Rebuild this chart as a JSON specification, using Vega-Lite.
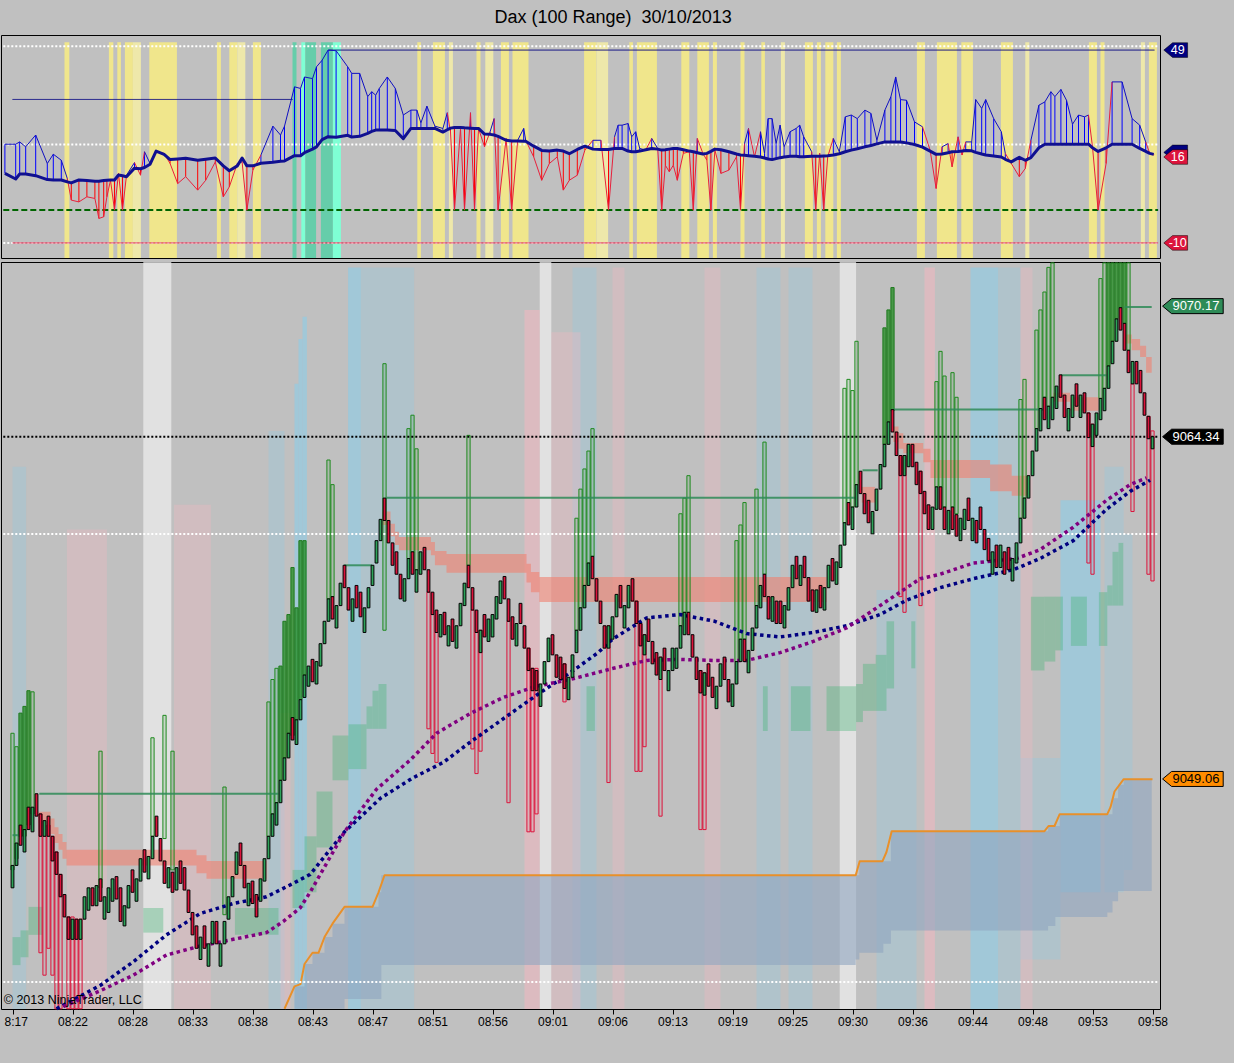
{
"$schema": "https://vega.github.io/schema/vega-lite/v6.json",
"background": "#C0C0C0",
"padding": {"left": 0, "top": 8, "right": 8, "bottom": 40},
"title": {"text": "Dax (100 Range)\u00a0 30/10/2013", "font": "Liberation Sans", "fontSize": 18, "fontWeight": "normal", "color": "black", "anchor": "middle", "offset": 8},
"spacing": 2,
"config": {"view": {"stroke": "black", "strokeWidth": 1, "fill": "#C0C0C0"}, "axis": {"labelFont": "Liberation Sans", "labelFontSize": 12, "labelColor": "black", "tickColor": "black", "domain": false, "grid": false}, "scale": {"continuousPadding": 0}},
"datasets": {
"candles": [
{"i":0,"o":9044.2,"c":9045.2},{"i":1,"o":9045.2,"c":9046.2},{"i":2,"o":9047.0,"c":9046.1},{"i":3,"o":9045.8,"c":9046.8},{"i":4,"o":9047.8,"c":9046.8},{"i":5,"o":9046.7,"c":9047.8},{"i":6,"o":9048.4,"c":9047.4},{"i":7,"o":9047.5,"c":9046.5},{"i":8,"o":9046.5,"c":9047.2},{"i":9,"o":9047.4,"c":9046.5},
{"i":10,"o":9046.5,"c":9045.4},{"i":11,"o":9045.8,"c":9044.8},{"i":12,"o":9044.8,"c":9043.8},{"i":13,"o":9043.9,"c":9042.9},{"i":14,"o":9042.9,"c":9041.9},{"i":15,"o":9041.9,"c":9042.8},{"i":16,"o":9042.8,"c":9041.9},{"i":17,"o":9041.9,"c":9042.8},{"i":18,"o":9042.8,"c":9043.8},{"i":19,"o":9043.2,"c":9044.2},
{"i":20,"o":9044.2,"c":9043.4},{"i":21,"o":9043.4,"c":9044.3},{"i":22,"o":9044.6,"c":9043.6},{"i":23,"o":9042.8,"c":9043.8},{"i":24,"o":9043.1,"c":9044.2},{"i":25,"o":9043.6,"c":9044.6},{"i":26,"o":9044.7,"c":9043.7},{"i":27,"o":9044.2,"c":9042.7},{"i":28,"o":9042.5,"c":9043.4},{"i":29,"o":9043.3,"c":9044.3},
{"i":30,"o":9045.0,"c":9044.0},{"i":31,"o":9043.6,"c":9044.6},{"i":32,"o":9044.5,"c":9045.5},{"i":33,"o":9045.9,"c":9044.9},{"i":34,"o":9044.6,"c":9045.6},{"i":35,"o":9045.5,"c":9046.5},{"i":36,"o":9047.4,"c":9046.5},{"i":37,"o":9046.4,"c":9045.4},{"i":38,"o":9045.4,"c":9044.4},{"i":39,"o":9044.2,"c":9045.1},
{"i":40,"o":9044.9,"c":9044.0},{"i":41,"o":9044.1,"c":9045.1},{"i":42,"o":9045.4,"c":9044.4},{"i":43,"o":9045.1,"c":9044.1},{"i":44,"o":9044.1,"c":9043.1},{"i":45,"o":9043.1,"c":9042.1},{"i":46,"o":9042.5,"c":9041.5},{"i":47,"o":9041.0,"c":9042.0},{"i":48,"o":9042.5,"c":9041.5},{"i":49,"o":9040.7,"c":9041.7},
{"i":50,"o":9041.7,"c":9042.7},{"i":51,"o":9042.7,"c":9041.7},{"i":52,"o":9040.7,"c":9041.7},{"i":53,"o":9041.7,"c":9042.7},{"i":54,"o":9042.8,"c":9043.8},{"i":55,"o":9043.8,"c":9044.7},{"i":56,"o":9044.8,"c":9045.8},{"i":57,"o":9046.2,"c":9045.2},{"i":58,"o":9045.2,"c":9044.2},{"i":59,"o":9043.4,"c":9044.4},
{"i":60,"o":9044.5,"c":9043.5},{"i":61,"o":9043.9,"c":9042.9},{"i":62,"o":9043.6,"c":9044.6},{"i":63,"o":9044.5,"c":9045.5},{"i":64,"o":9045.5,"c":9046.5},{"i":65,"o":9046.5,"c":9047.5},{"i":66,"o":9047.0,"c":9048.0},{"i":67,"o":9048.0,"c":9049.0},{"i":68,"o":9049.0,"c":9050.0},{"i":69,"o":9050.0,"c":9051.1},
{"i":70,"o":9051.8,"c":9050.8},{"i":71,"o":9050.6,"c":9051.7},{"i":72,"o":9051.7,"c":9052.6},{"i":73,"o":9052.7,"c":9053.7},{"i":74,"o":9053.2,"c":9054.1},{"i":75,"o":9054.4,"c":9053.4},{"i":76,"o":9053.3,"c":9054.3},{"i":77,"o":9054.1,"c":9055.1},{"i":78,"o":9055.1,"c":9056.1},{"i":79,"o":9056.1,"c":9057.1},
{"i":80,"o":9057.2,"c":9056.2},{"i":81,"o":9055.8,"c":9056.8},{"i":82,"o":9056.8,"c":9057.8},{"i":83,"o":9058.6,"c":9057.6},{"i":84,"o":9057.6,"c":9056.6},{"i":85,"o":9056.1,"c":9057.1},{"i":86,"o":9057.7,"c":9056.7},{"i":87,"o":9057.4,"c":9056.3},{"i":88,"o":9055.6,"c":9056.7},{"i":89,"o":9056.7,"c":9057.6},
{"i":90,"o":9057.7,"c":9058.6},{"i":91,"o":9058.7,"c":9059.7},{"i":92,"o":9059.7,"c":9060.65},{"i":93,"o":9061.6,"c":9060.6},{"i":94,"o":9060.6,"c":9059.6},{"i":95,"o":9059.6,"c":9058.6},{"i":96,"o":9059.2,"c":9058.2},{"i":97,"o":9058.2,"c":9057.1},{"i":98,"o":9057.0,"c":9058.0},{"i":99,"o":9058.0,"c":9058.9},
{"i":100,"o":9059.2,"c":9058.2},{"i":101,"o":9057.4,"c":9058.4},{"i":102,"o":9058.2,"c":9059.2},{"i":103,"o":9059.4,"c":9058.4},{"i":104,"o":9058.4,"c":9057.4},{"i":105,"o":9057.4,"c":9056.4},{"i":106,"o":9056.6,"c":9055.6},{"i":107,"o":9055.4,"c":9056.4},{"i":108,"o":9056.5,"c":9055.5},{"i":109,"o":9055.0,"c":9055.9},
{"i":110,"o":9056.2,"c":9055.2},{"i":111,"o":9054.9,"c":9055.9},{"i":112,"o":9055.9,"c":9056.9},{"i":113,"o":9056.8,"c":9057.8},{"i":114,"o":9058.6,"c":9057.6},{"i":115,"o":9057.6,"c":9056.6},{"i":116,"o":9056.6,"c":9055.6},{"i":117,"o":9054.7,"c":9055.7},{"i":118,"o":9056.4,"c":9055.4},{"i":119,"o":9055.2,"c":9056.2},
{"i":120,"o":9055.4,"c":9056.4},{"i":121,"o":9056.2,"c":9057.2},{"i":122,"o":9056.9,"c":9057.9},{"i":123,"o":9058.1,"c":9057.1},{"i":124,"o":9057.1,"c":9056.1},{"i":125,"o":9056.3,"c":9055.3},{"i":126,"o":9055.0,"c":9056.0},{"i":127,"o":9056.9,"c":9056.0},{"i":128,"o":9055.9,"c":9054.9},{"i":129,"o":9054.9,"c":9053.9},
{"i":130,"o":9054.0,"c":9053.0},{"i":131,"o":9053.9,"c":9053.0},{"i":132,"o":9052.3,"c":9053.3},{"i":133,"o":9053.3,"c":9054.3},{"i":134,"o":9054.3,"c":9055.35},{"i":135,"o":9055.5,"c":9054.6},{"i":136,"o":9054.6,"c":9053.6},{"i":137,"o":9054.5,"c":9053.5},{"i":138,"o":9054.2,"c":9053.1},{"i":139,"o":9052.6,"c":9053.6},
{"i":140,"o":9053.6,"c":9054.6},{"i":141,"o":9054.7,"c":9055.7},{"i":142,"o":9055.7,"c":9056.7},{"i":143,"o":9056.7,"c":9057.7},{"i":144,"o":9057.7,"c":9058.7},{"i":145,"o":9059.0,"c":9058.0},{"i":146,"o":9058.0,"c":9057.0},{"i":147,"o":9057.0,"c":9056.0},{"i":148,"o":9055.9,"c":9054.9},{"i":149,"o":9054.9,"c":9055.9},
{"i":150,"o":9055.3,"c":9056.3},{"i":151,"o":9056.3,"c":9057.3},{"i":152,"o":9057.7,"c":9056.7},{"i":153,"o":9055.8,"c":9056.8},{"i":154,"o":9056.7,"c":9057.7},{"i":155,"o":9058.0,"c":9057.0},{"i":156,"o":9057.0,"c":9056.0},{"i":157,"o":9056.0,"c":9055.0},{"i":158,"o":9054.6,"c":9055.5},{"i":159,"o":9056.2,"c":9055.2},
{"i":160,"o":9055.2,"c":9054.2},{"i":161,"o":9054.7,"c":9053.7},{"i":162,"o":9053.5,"c":9054.5},{"i":163,"o":9054.9,"c":9053.9},{"i":164,"o":9053.0,"c":9053.9},{"i":165,"o":9053.9,"c":9054.9},{"i":166,"o":9054.0,"c":9054.9},{"i":167,"o":9054.9,"c":9055.9},{"i":168,"o":9055.5,"c":9056.5},{"i":169,"o":9056.5,"c":9055.5},
{"i":170,"o":9055.5,"c":9054.5},{"i":171,"o":9054.5,"c":9053.5},{"i":172,"o":9053.9,"c":9052.9},{"i":173,"o":9052.8,"c":9053.8},{"i":174,"o":9054.2,"c":9053.2},{"i":175,"o":9053.6,"c":9052.7},{"i":176,"o":9052.2,"c":9053.2},{"i":177,"o":9053.2,"c":9054.2},{"i":178,"o":9054.5,"c":9053.5},{"i":179,"o":9053.5,"c":9052.5},
{"i":180,"o":9052.3,"c":9053.3},{"i":181,"o":9053.3,"c":9054.3},{"i":182,"o":9054.3,"c":9055.3},{"i":183,"o":9055.3,"c":9054.3},{"i":184,"o":9053.8,"c":9054.8},{"i":185,"o":9054.8,"c":9055.8},{"i":186,"o":9055.8,"c":9056.8},{"i":187,"o":9056.7,"c":9057.7},{"i":188,"o":9058.2,"c":9057.2},{"i":189,"o":9057.2,"c":9056.2},
{"i":190,"o":9056.1,"c":9057.2},{"i":191,"o":9057.0,"c":9056.0},{"i":192,"o":9057.0,"c":9056.0},{"i":193,"o":9055.8,"c":9056.8},{"i":194,"o":9056.6,"c":9057.6},{"i":195,"o":9057.6,"c":9058.6},{"i":196,"o":9059.0,"c":9058.0},{"i":197,"o":9057.7,"c":9058.6},{"i":198,"o":9059.0,"c":9058.05},{"i":199,"o":9058.05,"c":9057.0},
{"i":200,"o":9057.5,"c":9056.55},{"i":201,"o":9056.5,"c":9057.5},{"i":202,"o":9057.7,"c":9056.7},{"i":203,"o":9056.6,"c":9057.6},{"i":204,"o":9057.6,"c":9058.6},{"i":205,"o":9058.9,"c":9057.9},{"i":206,"o":9057.75,"c":9058.75},{"i":207,"o":9058.5,"c":9059.5},{"i":208,"o":9059.5,"c":9060.5},{"i":209,"o":9061.4,"c":9060.4},
{"i":210,"o":9060.2,"c":9061.2},{"i":211,"o":9061.2,"c":9062.2},{"i":212,"o":9062.8,"c":9061.8},{"i":213,"o":9061.8,"c":9060.9},{"i":214,"o":9061.5,"c":9060.5},{"i":215,"o":9060.0,"c":9061.0},{"i":216,"o":9061.05,"c":9062.0},{"i":217,"o":9062.0,"c":9063.1},{"i":218,"o":9063.0,"c":9064.0},{"i":219,"o":9064.0,"c":9065.0},
{"i":220,"o":9065.55,"c":9064.55},{"i":221,"o":9064.55,"c":9063.5},{"i":222,"o":9063.5,"c":9062.6},{"i":223,"o":9062.6,"c":9063.5},{"i":224,"o":9063.0,"c":9064.0},{"i":225,"o":9064.0,"c":9063.0},{"i":226,"o":9063.2,"c":9062.2},{"i":227,"o":9062.8,"c":9061.8},{"i":228,"o":9061.9,"c":9060.9},{"i":229,"o":9061.3,"c":9060.2},
{"i":230,"o":9060.2,"c":9061.2},{"i":231,"o":9061.1,"c":9062.1},{"i":232,"o":9062.1,"c":9061.1},{"i":233,"o":9061.2,"c":9060.2},{"i":234,"o":9060.0,"c":9061.05},{"i":235,"o":9061.2,"c":9060.2},{"i":236,"o":9060.86,"c":9059.9},{"i":237,"o":9059.7,"c":9060.7},{"i":238,"o":9060.2,"c":9061.1},{"i":239,"o":9061.6,"c":9060.6},
{"i":240,"o":9059.7,"c":9060.7},{"i":241,"o":9060.6,"c":9059.6},{"i":242,"o":9061.2,"c":9060.2},{"i":243,"o":9060.2,"c":9059.3},{"i":244,"o":9059.8,"c":9058.8},{"i":245,"o":9058.2,"c":9059.2},{"i":246,"o":9059.5,"c":9058.5},{"i":247,"o":9058.5,"c":9059.5},{"i":248,"o":9059.2,"c":9058.2},{"i":249,"o":9059.4,"c":9058.4},
{"i":250,"o":9057.9,"c":9058.9},{"i":251,"o":9058.7,"c":9059.6},{"i":252,"o":9059.6,"c":9060.7},{"i":253,"o":9060.7,"c":9061.6},{"i":254,"o":9061.6,"c":9062.6},{"i":255,"o":9062.6,"c":9063.7},{"i":256,"o":9063.7,"c":9064.7},{"i":257,"o":9064.6,"c":9065.6},{"i":258,"o":9066.1,"c":9065.1},{"i":259,"o":9064.7,"c":9065.7},
{"i":260,"o":9065.1,"c":9066.1},{"i":261,"o":9065.6,"c":9066.6},{"i":262,"o":9067.1,"c":9066.1},{"i":263,"o":9066.2,"c":9065.2},{"i":264,"o":9064.6,"c":9065.6},{"i":265,"o":9065.2,"c":9066.2},{"i":266,"o":9066.7,"c":9065.7},{"i":267,"o":9065.2,"c":9066.2},{"i":268,"o":9066.3,"c":9065.4},{"i":269,"o":9065.4,"c":9064.3},
{"i":270,"o":9063.9,"c":9064.9},{"i":271,"o":9064.4,"c":9065.4},{"i":272,"o":9065.1,"c":9066.05},{"i":273,"o":9065.5,"c":9066.5},{"i":274,"o":9066.5,"c":9067.5},{"i":275,"o":9067.6,"c":9068.6},{"i":276,"o":9068.6,"c":9069.6},{"i":277,"o":9070.1,"c":9069.1},{"i":278,"o":9069.4,"c":9068.2},{"i":279,"o":9068.2,"c":9067.2},
{"i":280,"o":9066.7,"c":9067.7},{"i":281,"o":9067.7,"c":9066.7},{"i":282,"o":9067.3,"c":9066.3},{"i":283,"o":9066.3,"c":9065.3},{"i":284,"o":9065.25,"c":9064.25},{"i":285,"o":9063.8,"c":9064.34}
],
"ghost": [
{"i":0,"a":9045.0,"b":9051.1,"k":"g"},{"i":1,"a":9045.5,"b":9050.5,"k":"g"},{"i":2,"a":9046.5,"b":9052.0,"k":"G"},{"i":3,"a":9046.5,"b":9052.3,"k":"G"},{"i":4,"a":9047.0,"b":9053.0,"k":"G"},{"i":5,"a":9047.5,"b":9052.95,"k":"g"},
{"i":22,"a":9044.2,"b":9050.3,"k":"g"},{"i":35,"a":9046.5,"b":9050.9,"k":"g"},{"i":38,"a":9046.4,"b":9051.9,"k":"g"},{"i":40,"a":9045.0,"b":9050.3,"k":"g"},{"i":53,"a":9043.0,"b":9048.7,"k":"g"},
{"i":64,"a":9046.5,"b":9052.5,"k":"g"},{"i":65,"a":9047.5,"b":9053.5,"k":"g"},{"i":66,"a":9048.0,"b":9054.0,"k":"g"},{"i":67,"a":9049.0,"b":9054.1,"k":"G"},{"i":68,"a":9050.0,"b":9056.1,"k":"G"},{"i":69,"a":9051.1,"b":9056.4,"k":"G"},{"i":70,"a":9051.0,"b":9058.5,"k":"G"},{"i":71,"a":9051.7,"b":9056.7,"k":"G"},{"i":72,"a":9052.6,"b":9059.7,"k":"G"},{"i":73,"a":9053.7,"b":9059.7,"k":"G"},
{"i":79,"a":9057.1,"b":9063.3,"k":"g"},{"i":80,"a":9057.2,"b":9062.2,"k":"g"},{"i":93,"a":9055.7,"b":9067.6,"k":"g"},{"i":99,"a":9058.9,"b":9064.7,"k":"g"},{"i":100,"a":9059.2,"b":9065.3,"k":"g"},{"i":101,"a":9058.4,"b":9063.8,"k":"g"},{"i":114,"a":9058.6,"b":9064.4,"k":"g"},
{"i":141,"a":9055.7,"b":9060.7,"k":"g"},{"i":142,"a":9056.7,"b":9062.0,"k":"g"},{"i":143,"a":9057.7,"b":9062.9,"k":"g"},{"i":144,"a":9058.7,"b":9063.7,"k":"g"},{"i":145,"a":9059.0,"b":9064.7,"k":"g"},
{"i":167,"a":9055.9,"b":9060.9,"k":"g"},{"i":168,"a":9056.5,"b":9061.6,"k":"g"},{"i":169,"a":9056.5,"b":9062.6,"k":"g"},{"i":181,"a":9054.3,"b":9059.7,"k":"g"},{"i":182,"a":9055.3,"b":9060.4,"k":"g"},{"i":183,"a":9055.3,"b":9061.4,"k":"g"},{"i":186,"a":9056.8,"b":9062.0,"k":"g"},{"i":188,"a":9058.2,"b":9064.1,"k":"g"},
{"i":208,"a":9060.5,"b":9066.5,"k":"g"},{"i":209,"a":9061.4,"b":9066.9,"k":"g"},{"i":210,"a":9061.2,"b":9066.4,"k":"g"},{"i":211,"a":9062.2,"b":9068.6,"k":"g"},{"i":218,"a":9064.0,"b":9069.2,"k":"G"},{"i":219,"a":9065.0,"b":9070.0,"k":"G"},{"i":220,"a":9065.5,"b":9071.0,"k":"G"},
{"i":231,"a":9062.1,"b":9066.8,"k":"g"},{"i":232,"a":9062.1,"b":9068.15,"k":"g"},{"i":233,"a":9061.2,"b":9067.05,"k":"g"},{"i":235,"a":9061.2,"b":9067.2,"k":"g"},{"i":236,"a":9060.9,"b":9066.1,"k":"g"},
{"i":252,"a":9060.7,"b":9066.0,"k":"g"},{"i":253,"a":9061.6,"b":9066.9,"k":"g"},{"i":256,"a":9064.7,"b":9069.1,"k":"g"},{"i":257,"a":9065.6,"b":9070.0,"k":"g"},{"i":258,"a":9066.1,"b":9070.8,"k":"g"},{"i":259,"a":9065.7,"b":9071.9,"k":"g"},{"i":260,"a":9066.1,"b":9072.1,"k":"g"},
{"i":272,"a":9066.05,"b":9071.4,"k":"g"},{"i":273,"a":9066.5,"b":9072.1,"k":"g"},{"i":274,"a":9067.5,"b":9072.1,"k":"G"},{"i":275,"a":9068.6,"b":9072.1,"k":"G"},{"i":276,"a":9069.6,"b":9072.1,"k":"G"},{"i":277,"a":9070.1,"b":9072.1,"k":"G"},{"i":278,"a":9069.4,"b":9072.1,"k":"G"},{"i":279,"a":9068.2,"b":9072.1,"k":"g"},
{"i":7,"a":9047.5,"b":9041.3,"k":"r"},{"i":8,"a":9046.5,"b":9040.3,"k":"r"},{"i":9,"a":9047.0,"b":9041.5,"k":"r"},{"i":10,"a":9046.5,"b":9040.3,"k":"r"},{"i":11,"a":9045.8,"b":9038.8,"k":"r"},{"i":12,"a":9044.8,"b":9038.8,"k":"r"},{"i":14,"a":9042.9,"b":9038.8,"k":"r"},{"i":15,"a":9042.9,"b":9038.8,"k":"r"},{"i":16,"a":9042.8,"b":9038.8,"k":"r"},{"i":17,"a":9042.8,"b":9038.8,"k":"r"},
{"i":104,"a":9057.4,"b":9051.3,"k":"r"},{"i":105,"a":9056.4,"b":9050.2,"k":"r"},{"i":106,"a":9055.6,"b":9049.8,"k":"r"},{"i":115,"a":9056.6,"b":9050.4,"k":"r"},{"i":116,"a":9055.6,"b":9049.3,"k":"r"},{"i":117,"a":9055.7,"b":9050.3,"k":"r"},{"i":124,"a":9056.1,"b":9048.0,"k":"r"},
{"i":129,"a":9054.9,"b":9046.7,"k":"r"},{"i":130,"a":9054.0,"b":9046.7,"k":"r"},{"i":131,"a":9054.0,"b":9047.5,"k":"r"},{"i":138,"a":9054.2,"b":9052.5,"k":"r"},{"i":149,"a":9055.9,"b":9048.9,"k":"r"},{"i":156,"a":9057.0,"b":9049.4,"k":"r"},{"i":157,"a":9056.0,"b":9049.4,"k":"r"},{"i":158,"a":9055.5,"b":9050.5,"k":"r"},{"i":162,"a":9054.5,"b":9047.4,"k":"r"},{"i":172,"a":9053.9,"b":9046.8,"k":"r"},{"i":173,"a":9053.8,"b":9046.8,"k":"r"},
{"i":222,"a":9063.5,"b":9057.2,"k":"r"},{"i":223,"a":9063.5,"b":9056.5,"k":"r"},{"i":227,"a":9062.8,"b":9056.8,"k":"r"},{"i":269,"a":9065.4,"b":9058.7,"k":"r"},{"i":270,"a":9064.9,"b":9058.2,"k":"r"},{"i":280,"a":9066.7,"b":9061.0,"k":"r"},{"i":284,"a":9065.25,"b":9058.2,"k":"r"},{"i":285,"a":9064.6,"b":9057.9,"k":"r"}
],
"bg": [
{"i":32.7,"i2":39.7,"a":9038.79,"b":9072.14,"k":"w"},{"i":131.8,"i2":134.7,"a":9038.79,"b":9072.14,"k":"w"},{"i":206.8,"i2":210.9,"a":9038.79,"b":9072.14,"k":"w"},
{"i":70.5,"i2":71.5,"a":9038.79,"b":9066.7,"k":"B"},{"i":71.5,"i2":72.5,"a":9038.79,"b":9068.7,"k":"B"},{"i":72.5,"i2":73.6,"a":9038.79,"b":9069.7,"k":"B"},{"i":83.9,"i2":87.1,"a":9038.79,"b":9071.9,"k":"B"},{"i":239.5,"i2":246.4,"a":9038.79,"b":9071.9,"k":"B"},{"i":262,"i2":272,"a":9044,"b":9061.5,"k":"B"},
{"i":87.1,"i2":100.4,"a":9038.79,"b":9071.9,"k":"b"},{"i":0,"i2":3.4,"a":9038.79,"b":9063.0,"k":"b"},{"i":64,"i2":68,"a":9038.79,"b":9064.6,"k":"b"},{"i":140,"i2":146,"a":9038.79,"b":9071.9,"k":"b"},{"i":186,"i2":192,"a":9038.79,"b":9071.9,"k":"b"},{"i":194,"i2":200,"a":9038.79,"b":9071.9,"k":"b"},{"i":216,"i2":226,"a":9038.79,"b":9057.5,"k":"b"},{"i":246.4,"i2":252,"a":9038.79,"b":9071.9,"k":"b"},{"i":252,"i2":262,"a":9041,"b":9050,"k":"b"},{"i":273,"i2":277.8,"a":9044,"b":9063,"k":"b"},{"i":277.8,"i2":280,"a":9045,"b":9060,"k":"b"},
{"i":13.6,"i2":23.6,"a":9038.79,"b":9060.2,"k":"p"},{"i":40.4,"i2":49.6,"a":9038.79,"b":9061.3,"k":"p"},{"i":67,"i2":69.5,"a":9038.79,"b":9052,"k":"p"},{"i":128,"i2":131.8,"a":9038.79,"b":9070.0,"k":"P"},{"i":134.7,"i2":142,"a":9038.79,"b":9069.0,"k":"p"},{"i":150,"i2":153,"a":9038.79,"b":9071.9,"k":"p"},{"i":173,"i2":177,"a":9038.79,"b":9071.9,"k":"p"},{"i":228,"i2":230.6,"a":9038.79,"b":9071.9,"k":"P"},{"i":252,"i2":255,"a":9038.79,"b":9071.9,"k":"p"}
],
"bluearea": [
{"i":70.5,"t":9039.8,"b":9038.8},{"i":73,"t":9040.8,"b":9038.8},{"i":75,"t":9041.3,"b":9038.8},{"i":78,"t":9042.0,"b":9038.8},{"i":80,"t":9042.6,"b":9038.8},{"i":83,"t":9043.35,"b":9039.24},{"i":91.5,"t":9044.0,"b":9039.24},{"i":92.2,"t":9044.76,"b":9040.75},{"i":210.8,"t":9044.76,"b":9041.0},{"i":211.7,"t":9045.39,"b":9041.3},{"i":217.7,"t":9045.39,"b":9041.7},{"i":219.6,"t":9046.73,"b":9042.3},{"i":258.9,"t":9046.96,"b":9042.5},{"i":260.7,"t":9046.96,"b":9042.9},{"i":261.8,"t":9047.49,"b":9042.9},{"i":273.7,"t":9047.49,"b":9043.1},{"i":275,"t":9048.2,"b":9043.6},{"i":276.4,"t":9048.8,"b":9044.06},{"i":277.8,"t":9049.05,"b":9044.06},{"i":284.8,"t":9049.05,"b":9044.06}
],
"gbox": [
{"i":0,"i2":2,"a":9040.75,"b":9042.0},{"i":2,"i2":4,"a":9041.1,"b":9042.3},{"i":4,"i2":7.5,"a":9042.1,"b":9043.35},{"i":32.7,"i2":37.7,"a":9042.2,"b":9043.3},{"i":55.6,"i2":66.5,"a":9042.1,"b":9043.3},
{"i":70,"i2":73,"a":9043.3,"b":9045.0},{"i":73,"i2":76,"a":9044.0,"b":9046.5},{"i":76,"i2":80,"a":9046.0,"b":9048.5},{"i":80,"i2":84,"a":9049.0,"b":9051.0},{"i":84,"i2":88.5,"a":9049.5,"b":9051.5},{"i":88.5,"i2":90,"a":9051.3,"b":9052.3},{"i":90,"i2":91.5,"a":9051.3,"b":9053.0},{"i":91.5,"i2":93.5,"a":9051.3,"b":9053.3},
{"i":143.5,"i2":145.6,"a":9051.2,"b":9053.2},{"i":187.6,"i2":188.8,"a":9051.2,"b":9053.2},{"i":194.6,"i2":199.5,"a":9051.2,"b":9053.2},{"i":203.5,"i2":210.9,"a":9051.2,"b":9053.2},{"i":210.9,"i2":212.6,"a":9051.6,"b":9053.3},{"i":212.6,"i2":215.8,"a":9052.1,"b":9054.2},{"i":215.8,"i2":218.5,"a":9052.1,"b":9054.6},{"i":218.5,"i2":220.4,"a":9053.1,"b":9056.1},{"i":224.7,"i2":225.7,"a":9054.0,"b":9056.1},
{"i":254.6,"i2":258,"a":9053.9,"b":9057.2},{"i":258,"i2":260.7,"a":9054.3,"b":9057.2},{"i":260.7,"i2":262.6,"a":9054.8,"b":9057.2},{"i":264.6,"i2":268.6,"a":9055.0,"b":9057.2},{"i":271.6,"i2":273.7,"a":9055.0,"b":9057.4},{"i":273.7,"i2":275,"a":9056.8,"b":9057.7},{"i":275,"i2":276.5,"a":9056.8,"b":9059.2},{"i":276.5,"i2":277.7,"a":9056.8,"b":9059.6}
],
"salmon": [
{"g":1,"i":6.5,"t":9047.6,"b":9047.1},{"g":1,"i":7.5,"t":9047.6,"b":9046.9},{"g":1,"i":9.5,"t":9047.3,"b":9046.6},{"g":1,"i":10.5,"t":9046.9,"b":9046.2},{"g":1,"i":11.5,"t":9046.6,"b":9045.9},{"g":1,"i":12.5,"t":9046.25,"b":9045.5},{"g":1,"i":13.5,"t":9045.9,"b":9045.2},{"g":1,"i":46,"t":9045.65,"b":9044.85},{"g":1,"i":48.5,"t":9045.4,"b":9044.6},{"g":1,"i":63.5,"t":9045.4,"b":9044.6},
{"g":2,"i":92.5,"t":9061.0,"b":9060.4},{"g":2,"i":94.5,"t":9060.45,"b":9059.9},{"g":2,"i":95.6,"t":9060.1,"b":9059.5},{"g":2,"i":96.6,"t":9059.86,"b":9059.27},{"g":2,"i":104.6,"t":9059.64,"b":9059.05},{"g":2,"i":105.6,"t":9059.24,"b":9058.6},{"g":2,"i":108.5,"t":9059.1,"b":9058.27},{"g":2,"i":128.5,"t":9058.67,"b":9057.83},{"g":2,"i":129.6,"t":9058.3,"b":9057.4},{"g":2,"i":131.7,"t":9058.08,"b":9056.96},{"g":2,"i":203.5,"t":9058.08,"b":9056.96},
{"g":3,"i":212.3,"t":9062.1,"b":9061.4},{"g":3,"i":215.6,"t":9062.1,"b":9061.4},
{"g":4,"i":220.2,"t":9064.8,"b":9064.1},{"g":4,"i":221.5,"t":9064.5,"b":9063.8},{"g":4,"i":222.7,"t":9064.06,"b":9063.6},{"g":4,"i":227.7,"t":9063.8,"b":9063.2},{"g":4,"i":229.5,"t":9063.3,"b":9062.5},{"g":4,"i":244.4,"t":9063.1,"b":9061.9},{"g":4,"i":249.8,"t":9062.6,"b":9061.7},{"g":4,"i":254.4,"t":9062.6,"b":9061.7},
{"g":5,"i":260.2,"t":9066.3,"b":9065.9},{"g":5,"i":264.4,"t":9066.1,"b":9065.5},{"g":5,"i":271.5,"t":9066.1,"b":9065.5},
{"g":6,"i":278.1,"t":9068.9,"b":9068.5},{"g":6,"i":279.8,"t":9068.7,"b":9068.2},{"g":6,"i":281.9,"t":9068.4,"b":9067.9},{"g":6,"i":283.4,"t":9067.9,"b":9067.2},{"g":6,"i":284.8,"t":9067.9,"b":9067.2}
],
"lev": [
{"i":6.7,"i2":66.5,"v":9048.4},{"i":0,"i2":2,"v":9046.55},{"i":82.9,"i2":89.9,"v":9058.6},{"i":93.4,"i2":210.6,"v":9061.62},{"i":212.5,"i2":216.3,"v":9062.84},{"i":220,"i2":257.7,"v":9065.56},{"i":262,"i2":273.5,"v":9067.08},{"i":278,"i2":284.8,"v":9070.13}
],
"orange": [
{"i":68,"v":9038.8},{"i":70.5,"v":9039.8},{"i":72,"v":9039.9},{"i":73,"v":9040.8},{"i":75,"v":9041.3},{"i":76.5,"v":9041.3},{"i":78,"v":9042.0},{"i":80,"v":9042.6},{"i":83,"v":9043.35},{"i":90,"v":9043.35},{"i":91.5,"v":9044.0},{"i":93,"v":9044.76},{"i":210.8,"v":9044.76},{"i":211.8,"v":9045.39},{"i":217.5,"v":9045.39},{"i":218.5,"v":9045.8},{"i":219.8,"v":9046.73},{"i":258,"v":9046.73},{"i":259,"v":9046.96},{"i":260.5,"v":9046.96},{"i":261.8,"v":9047.49},{"i":273.7,"v":9047.49},{"i":274.5,"v":9047.8},{"i":275.5,"v":9048.5},{"i":277.8,"v":9049.05},{"i":285,"v":9049.05}
],
"ma": [
{"s":"n","i":11,"v":9038.8},{"s":"n","i":22,"v":9039.85},{"s":"n","i":30.2,"v":9040.9},{"s":"n","i":38.5,"v":9042.1},{"s":"n","i":46.9,"v":9043.05},{"s":"n","i":55.2,"v":9043.5},{"s":"n","i":63.5,"v":9043.8},{"s":"n","i":70.2,"v":9044.4},{"s":"n","i":74.4,"v":9044.8},{"s":"n","i":83,"v":9046.7},{"s":"n","i":92,"v":9048.2},{"s":"n","i":100,"v":9049.1},{"s":"n","i":107.7,"v":9049.8},{"s":"n","i":114.4,"v":9050.7},{"s":"n","i":122.7,"v":9051.75},{"s":"n","i":131,"v":9052.8},{"s":"n","i":135.2,"v":9053.3},{"s":"n","i":139.4,"v":9053.8},{"s":"n","i":146.4,"v":9054.7},{"s":"n","i":150,"v":9055.3},{"s":"n","i":158.5,"v":9056.25},{"s":"n","i":166.9,"v":9056.4},{"s":"n","i":175.6,"v":9056.1},{"s":"n","i":183.5,"v":9055.55},{"s":"n","i":191.9,"v":9055.4},{"s":"n","i":200.2,"v":9055.6},{"s":"n","i":208.5,"v":9055.9},{"s":"n","i":216.9,"v":9056.4},{"s":"n","i":223.5,"v":9057.04},{"s":"n","i":231.9,"v":9057.6},{"s":"n","i":240.2,"v":9058.0},{"s":"n","i":250.2,"v":9058.4},{"s":"n","i":256.9,"v":9058.9},{"s":"n","i":265.2,"v":9059.7},{"s":"n","i":273.5,"v":9061.1},{"s":"n","i":279.4,"v":9061.9},{"s":"n","i":284.4,"v":9062.4},
{"s":"p","i":12.7,"v":9038.9},{"s":"p","i":21.9,"v":9039.6},{"s":"p","i":30.2,"v":9040.3},{"s":"p","i":38.5,"v":9041.2},{"s":"p","i":46.9,"v":9041.6},{"s":"p","i":55.2,"v":9041.9},{"s":"p","i":63.5,"v":9042.2},{"s":"p","i":67.7,"v":9042.7},{"s":"p","i":71.9,"v":9043.3},{"s":"p","i":74.4,"v":9044.0},{"s":"p","i":83,"v":9046.7},{"s":"p","i":91,"v":9048.6},{"s":"p","i":99.4,"v":9049.9},{"s":"p","i":106,"v":9051.1},{"s":"p","i":114.4,"v":9051.98},{"s":"p","i":122.7,"v":9052.7},{"s":"p","i":131,"v":9053.2},{"s":"p","i":139.4,"v":9053.5},{"s":"p","i":150.2,"v":9054.0},{"s":"p","i":158.5,"v":9054.35},{"s":"p","i":166.9,"v":9054.4},{"s":"p","i":175.2,"v":9054.35},{"s":"p","i":183.5,"v":9054.35},{"s":"p","i":191.9,"v":9054.7},{"s":"p","i":200.2,"v":9055.2},{"s":"p","i":208.5,"v":9055.8},{"s":"p","i":216.9,"v":9056.8},{"s":"p","i":226.9,"v":9058.0},{"s":"p","i":231.9,"v":9058.2},{"s":"p","i":240.2,"v":9058.7},{"s":"p","i":251,"v":9058.9},{"s":"p","i":256.9,"v":9059.3},{"s":"p","i":265.2,"v":9060.3},{"s":"p","i":273.5,"v":9061.5},{"s":"p","i":279.4,"v":9062.2},{"s":"p","i":283.5,"v":9062.5}
],
"hl": [
{"i":-2.3,"i2":286.4,"v":9060,"k":"w"},{"i":-2.3,"i2":286.4,"v":9040,"k":"w"},{"i":-2.3,"i2":286.4,"v":9064.34,"k":"k"}
],
"pbadge": [
{"i":295.1,"v":9070.17,"lab":"9070.17","k":"g"},{"i":295.1,"v":9064.34,"lab":"9064.34","k":"k"},{"i":295.1,"v":9049.06,"lab":"9049.06","k":"o"}
],
"copy": [{"i":-2.2,"v":9039.2,"lab":"© 2013 NinjaTrader, LLC"}],
"ybands": [
{"i":13,"i2":14.2,"k":"y"},{"i":24.1,"i2":25.2,"k":"y"},{"i":26.2,"i2":27.1,"k":"y"},{"i":28.1,"i2":30.1,"k":"y"},{"i":30.1,"i2":32.1,"k":"l"},{"i":34.2,"i2":41.1,"k":"y"},{"i":51.1,"i2":52.1,"k":"y"},{"i":54.2,"i2":56.2,"k":"y"},{"i":56.2,"i2":58.2,"k":"l"},{"i":60.1,"i2":62.1,"k":"y"},
{"i":70,"i2":71,"k":"m"},{"i":72.2,"i2":73.2,"k":"a"},{"i":73.2,"i2":75.9,"k":"m"},{"i":77.1,"i2":80.1,"k":"m"},{"i":80.1,"i2":82.1,"k":"a"},
{"i":101.2,"i2":102.1,"k":"y"},{"i":105.1,"i2":108.1,"k":"y"},{"i":109.1,"i2":110.1,"k":"l"},{"i":116,"i2":117,"k":"y"},{"i":118.2,"i2":120.2,"k":"l"},{"i":122.1,"i2":124.1,"k":"y"},{"i":125,"i2":129,"k":"y"},{"i":142.9,"i2":146,"k":"y"},{"i":146,"i2":148.9,"k":"l"},
{"i":154.2,"i2":155.1,"k":"y"},{"i":156.1,"i2":161.1,"k":"y"},{"i":167.2,"i2":169.2,"k":"y"},{"i":171.2,"i2":174.1,"k":"y"},{"i":175.1,"i2":176.1,"k":"y"},{"i":182,"i2":183,"k":"y"},{"i":187.2,"i2":188.1,"k":"y"},{"i":192.1,"i2":193.1,"k":"l"},{"i":198.1,"i2":200.1,"k":"y"},{"i":201.1,"i2":202.1,"k":"y"},{"i":203.2,"i2":205.2,"k":"y"},{"i":206.1,"i2":207.1,"k":"y"},
{"i":226.1,"i2":228.1,"k":"y"},{"i":231.1,"i2":236.1,"k":"y"},{"i":237.2,"i2":240.1,"k":"y"},{"i":247.1,"i2":250.1,"k":"y"},{"i":253.2,"i2":254.2,"k":"l"},{"i":269.1,"i2":271.1,"k":"y"},{"i":272,"i2":273,"k":"y"},{"i":282.1,"i2":283.1,"k":"l"},{"i":284.1,"i2":286.1,"k":"y"}
],
"tl": [
{"i":-2.3,"i2":286.4,"v":20,"k":"w"},{"i":-2.3,"i2":286.4,"v":50,"k":"w"},{"i":-2.3,"i2":286.4,"v":-10,"k":"w"},{"i":0,"i2":286.4,"v":-10,"k":"r"},{"i":-2.3,"i2":286.4,"v":0,"k":"g"},{"i":0,"i2":70,"v":33.75,"k":"n"},{"i":79,"i2":285.5,"v":48.8,"k":"n"}
],
"tbadge": [
{"i":290.8,"v":17.6,"lab":"","k":"n"},{"i":290.8,"v":48.8,"lab":"49","k":"n"},{"i":290.8,"v":16.2,"lab":"16","k":"r"},{"i":290.8,"v":-10,"lab":"-10","k":"r"}
],
"osc": [
{"i":-1.9,"t":20.1,"s":11.2},{"i":0.8,"t":20.1,"s":9.5},{"i":1.8,"t":20.8,"s":11.0},{"i":3.3,"t":19.3,"s":11.0},{"i":5.8,"t":22.9,"s":10.5},{"i":8.7,"t":14.2,"s":9.3},{"i":10.2,"t":17.05,"s":9.2},{"i":12.2,"t":15.2,"s":9.2},{"i":13.7,"t":9.65,"s":8.6},{"i":14.7,"t":3.05,"s":8.3},{"i":16.6,"t":2.5,"s":9.2},{"i":18.6,"t":4.06,"s":9.0},{"i":20.6,"t":3.55,"s":8.8},{"i":21.6,"t":-2.55,"s":8.8},{"i":22.8,"t":-2.04,"s":9.0},{"i":23.6,"t":4.06,"s":9.1},{"i":24.5,"t":9.1,"s":9.2},{"i":25.5,"t":0,"s":9.2},{"i":26.5,"t":11.2,"s":10.7},{"i":27.5,"t":0,"s":10.5},{"i":28.5,"t":10.65,"s":10.2},{"i":30.5,"t":14.5,"s":12.8},{"i":32,"t":10.65,"s":12.6},{"i":33,"t":17.8,"s":13.0},{"i":34.4,"t":14.2,"s":14.0},{"i":35.9,"t":17.8,"s":18.0},{"i":37.9,"t":17.3,"s":17.0},{"i":39.4,"t":14.2,"s":15.4},{"i":41.3,"t":8.1,"s":15.6},{"i":43.3,"t":10.2,"s":15.8},{"i":46.3,"t":6.1,"s":15.2},{"i":48.3,"t":9.1,"s":15.5},{"i":50.7,"t":14.7,"s":15.9},{"i":52.7,"t":4.06,"s":13.5},{"i":54.2,"t":7.1,"s":12.0},{"i":56.2,"t":14.2,"s":13.5},{"i":57.4,"t":14.7,"s":15.9},{"i":58.6,"t":0,"s":13.5},{"i":60.1,"t":12.2,"s":13.5},{"i":62.1,"t":16.8,"s":14.3},{"i":65.1,"t":25.6,"s":14.6},{"i":67,"t":22.9,"s":14.9},{"i":68,"t":25.6,"s":15.0},{"i":70.5,"t":37.6,"s":16.6},{"i":72,"t":37.1,"s":16.6},{"i":73,"t":40.6,"s":17.5},{"i":75,"t":40.1,"s":18.6},{"i":76,"t":43.7,"s":19.3},{"i":77.4,"t":45.7,"s":21.5},{"i":78.9,"t":48.8,"s":22.4},{"i":80.9,"t":48.6,"s":22.2},{"i":83.8,"t":43.7,"s":22.8},{"i":84.8,"t":41.7,"s":22.3},{"i":86.8,"t":41.7,"s":22.5},{"i":88.8,"t":34.6,"s":23.4},{"i":89.8,"t":36.1,"s":24.0},{"i":90.8,"t":35.05,"s":24.4},{"i":91.7,"t":37.1,"s":24.4},{"i":93.7,"t":40.6,"s":24.4},{"i":95.7,"t":37.1,"s":24.3},{"i":97.7,"t":29,"s":21.8},{"i":99.6,"t":30.5,"s":24.9},{"i":101.1,"t":30.5,"s":24.9},{"i":102.1,"t":26.6,"s":24.9},{"i":103.6,"t":31.7,"s":24.9},{"i":105.6,"t":25.6,"s":24.9},{"i":107.6,"t":24.9,"s":23.8},{"i":108.7,"t":29.7,"s":24.5},{"i":109.5,"t":23.9,"s":25.0},{"i":110.5,"t":0,"s":25.2},{"i":112,"t":24.9,"s":25.2},{"i":113,"t":0,"s":25.1},{"i":114.5,"t":29.7,"s":25.0},{"i":115.5,"t":0,"s":24.9},{"i":116.5,"t":24.9,"s":24.9},{"i":118,"t":19.3,"s":23.2},{"i":119.4,"t":23.9,"s":23.1},{"i":120.4,"t":27.9,"s":22.9},{"i":121.4,"t":0,"s":22.5},{"i":123.4,"t":21.85,"s":21.3},{"i":124.8,"t":0,"s":21.1},{"i":126.3,"t":21.3,"s":21.1},{"i":127.8,"t":24.9,"s":21.0},{"i":128.3,"t":21.3,"s":21.0},{"i":130.3,"t":16.25,"s":19.5},{"i":132.3,"t":9.1,"s":18.2},{"i":134.2,"t":14.2,"s":18.0},{"i":136.2,"t":16.25,"s":18.3},{"i":137.7,"t":6.1,"s":18.0},{"i":139.2,"t":9.1,"s":17.2},{"i":141.2,"t":10.65,"s":18.5},{"i":143.1,"t":18.3,"s":19.5},{"i":145.1,"t":21.3,"s":18.6},{"i":147.1,"t":21.3,"s":18.5},{"i":149,"t":0,"s":18.5},{"i":150.5,"t":22.35,"s":18.8},
{"i":151.4,"t":25.9,"s":18.8},{"i":152.4,"t":25.9,"s":18.8},{"i":153.9,"t":26.4,"s":18.0},{"i":154.8,"t":22.35,"s":17.8},{"i":155.8,"t":23.9,"s":17.8},{"i":156.8,"t":18.8,"s":18.0},{"i":158.3,"t":18.3,"s":18.4},{"i":159.8,"t":21.85,"s":18.8},{"i":161.3,"t":18.8,"s":18.6},{"i":162.3,"t":0,"s":18.3},{"i":163.2,"t":13.7,"s":18.4},{"i":164.2,"t":11.7,"s":18.6},{"i":165.2,"t":13.7,"s":18.8},{"i":166.2,"t":9.1,"s":18.8},{"i":167.7,"t":17.3,"s":18.4},{"i":169.2,"t":17.8,"s":18.0},{"i":170.2,"t":0,"s":17.8},{"i":171.2,"t":21.85,"s":17.5},{"i":172.6,"t":17.3,"s":17.1},{"i":173.6,"t":15.2,"s":17.3},{"i":174.6,"t":0,"s":17.9},{"i":175.6,"t":18.3,"s":18.6},{"i":177.1,"t":11.2,"s":18.4},{"i":179.1,"t":12.2,"s":17.8},{"i":181,"t":16.25,"s":17.1},{"i":182,"t":0,"s":16.8},{"i":183,"t":20.3,"s":16.7},{"i":184,"t":24.9,"s":16.6},{"i":185.5,"t":16.25,"s":16.4},{"i":187,"t":23.9,"s":16.2},{"i":188,"t":17.3,"s":15.9},{"i":188.9,"t":27.9,"s":15.6},{"i":189.9,"t":27.9,"s":15.4},{"i":190.9,"t":20.3,"s":15.7},{"i":191.9,"t":25.9,"s":16.0},{"i":192.9,"t":19.3,"s":16.2},{"i":194.4,"t":23.9,"s":16.4},{"i":195.9,"t":24.9,"s":16.4},{"i":196.8,"t":25.9,"s":16.3},{"i":197.8,"t":22.35,"s":16.3},{"i":199.8,"t":17.8,"s":16.4},{"i":200.8,"t":0,"s":16.4},{"i":201.8,"t":17.3,"s":16.4},{"i":202.8,"t":0,"s":16.5},{"i":203.8,"t":16.25,"s":16.6},{"i":205.2,"t":21.85,"s":16.8},{"i":206.7,"t":17.8,"s":17.2},{"i":208.2,"t":28.45,"s":17.8},{"i":209.7,"t":29,"s":18.3},{"i":211.2,"t":27.9,"s":18.7},{"i":213.1,"t":30.5,"s":19.3},{"i":214.6,"t":29.5,"s":19.7},{"i":216.1,"t":21.3,"s":20.2},{"i":218.1,"t":30.5,"s":20.8},{"i":219.6,"t":34.6,"s":20.8},{"i":220.8,"t":40.6,"s":20.8},{"i":222,"t":33.7,"s":20.8},{"i":223.5,"t":33.5,"s":20.5},{"i":225.5,"t":26.9,"s":20.0},{"i":227.5,"t":25.4,"s":19.2},{"i":229.4,"t":18.3,"s":18.0},{"i":230.9,"t":6.6,"s":17.0},{"i":232.4,"t":19.3,"s":17.1},{"i":233.9,"t":20.3,"s":17.5},{"i":234.9,"t":13.2,"s":17.8},{"i":236.4,"t":22.35,"s":17.9},{"i":237.4,"t":16.8,"s":18.0},{"i":238.3,"t":20.8,"s":18.2},{"i":239.8,"t":20.8,"s":18.1},{"i":240.8,"t":33.7,"s":17.6},{"i":242.3,"t":31,"s":17.1},{"i":243.3,"t":33.7,"s":16.8},{"i":245.3,"t":27.9,"s":16.5},{"i":247.2,"t":23.9,"s":16.2},{"i":248.2,"t":17.3,"s":15.5},{"i":249.7,"t":14.2,"s":14.7},{"i":251.7,"t":10.2,"s":16.1},{"i":253.2,"t":12.7,"s":15.2},{"i":254.6,"t":21.3,"s":16.0},{"i":256.6,"t":32,"s":19.0},{"i":258.1,"t":33,"s":20.1},{"i":259.6,"t":36.1,"s":20.1},{"i":260.6,"t":34.6,"s":20.1},{"i":262.1,"t":36.8,"s":20.1},{"i":263.5,"t":33.5,"s":20.1},{"i":265,"t":26.2,"s":20.1},{"i":266.5,"t":29,"s":20.1},{"i":268,"t":28.45,"s":20.1},{"i":269,"t":29,"s":20.1},{"i":270,"t":19.3,"s":19.0},{"i":271.4,"t":0,"s":17.9},{"i":273.4,"t":14.2,"s":19.0},{"i":274.9,"t":39.1,"s":20.1},{"i":277.4,"t":39.1,"s":20.1},{"i":279.9,"t":27.9,"s":20.1},{"i":281.8,"t":25.9,"s":18.8},{"i":283.3,"t":20.8,"s":17.9},{"i":284.3,"t":17.3,"s":17.3},{"i":285.3,"t":16.8,"s":17.0}
]
},
"vconcat": [
{
"width": 1159, "height": 223,
"encoding": {"x": {"field": "i", "type": "quantitative", "scale": {"domain": [-2.875, 286.875], "nice": false, "zero": false, "padding": 0}, "axis": null}},
"layer": [
{"data": {"name": "ybands"}, "mark": {"type": "rect"},
 "encoding": {"x2": {"field": "i2"}, "y": {"datum": 51.2, "type": "quantitative", "scale": {"domain": [-14.6, 53.4], "nice": false, "zero": false}, "axis": null}, "y2": {"datum": -14.6},
  "fill": {"condition": [{"test": "datum.k == 'y'", "value": "#F0E68C"}, {"test": "datum.k == 'l'", "value": "#EEE8AA"}, {"test": "datum.k == 'm'", "value": "#66CDAA"}], "value": "#7FFFD4"}}},
{"data": {"name": "tl"}, "mark": {"type": "rule", "strokeCap": "butt"},
 "encoding": {"x2": {"field": "i2"}, "y": {"field": "v", "type": "quantitative", "scale": {"domain": [-14.6, 53.4], "nice": false, "zero": false}, "axis": {"orient": "right", "values": [0, 10, 20, 30, 40], "tickSize": 4, "labelPadding": 3, "title": null, "domain": false, "grid": false}},
  "stroke": {"condition": [{"test": "datum.k == 'w'", "value": "#FFFFFF"}, {"test": "datum.k == 'r'", "value": "#DC143C"}, {"test": "datum.k == 'g'", "value": "#006400"}], "value": "#000080"},
  "strokeDash": {"condition": [{"test": "datum.k == 'w'", "value": [2, 2]}, {"test": "datum.k == 'g'", "value": [6, 3]}], "value": [1, 0]},
  "strokeWidth": {"condition": [{"test": "datum.k == 'w' || datum.k == 'g'", "value": 2}], "value": 1}}},
{"data": {"name": "osc"}, "mark": {"type": "rule", "strokeWidth": 1},
 "encoding": {"y": {"field": "t", "type": "quantitative", "scale": {"domain": [-14.6, 53.4], "nice": false, "zero": false}, "axis": null}, "y2": {"field": "s"},
  "stroke": {"condition": {"test": "datum.t >= datum.s", "value": "#0000FF"}, "value": "#FF0000"}}},
{"data": {"name": "osc"},
 "transform": [{"window": [{"op": "lead", "field": "i", "as": "i2"}, {"op": "lead", "field": "t", "as": "t2"}], "sort": [{"field": "i"}]}, {"filter": "datum.i2 != null"}],
 "mark": {"type": "rule", "strokeWidth": 1},
 "encoding": {"x2": {"field": "i2"}, "y": {"field": "t", "type": "quantitative", "scale": {"domain": [-14.6, 53.4], "nice": false, "zero": false}, "axis": null}, "y2": {"field": "t2"},
  "stroke": {"condition": {"test": "datum.t >= datum.s && datum.t2 >= datum.s", "value": "#1010C0"}, "value": "#E8203C"}}},
{"data": {"name": "osc"}, "mark": {"type": "line", "stroke": "#101090", "strokeWidth": 3, "strokeJoin": "round"},
 "encoding": {"y": {"field": "s", "type": "quantitative", "scale": {"domain": [-14.6, 53.4], "nice": false, "zero": false}, "axis": null}}},
{"data": {"name": "tbadge"}, "mark": {"type": "point", "filled": true, "opacity": 1, "size": 213, "shape": "M-1.63,0L-0.43,-1L1.63,-1L1.63,1L-0.43,1Z", "stroke": "black", "strokeWidth": 0.5},
 "encoding": {"y": {"field": "v", "type": "quantitative", "scale": {"domain": [-14.6, 53.4], "nice": false, "zero": false}, "axis": null},
  "fill": {"condition": {"test": "datum.k == 'n'", "value": "#000080"}, "value": "#DC143C"}}},
{"data": {"name": "tbadge"}, "mark": {"type": "text", "font": "Liberation Sans", "fontSize": 12.5, "fill": "white", "align": "center", "baseline": "middle", "dx": 2},
 "encoding": {"y": {"field": "v", "type": "quantitative", "scale": {"domain": [-14.6, 53.4], "nice": false, "zero": false}, "axis": null}, "text": {"field": "lab"}}}
]
},
{
"width": 1159, "height": 747,
"encoding": {"x": {"field": "i", "type": "quantitative", "scale": {"domain": [-2.875, 286.875], "nice": false, "zero": false, "padding": 0},
   "axis": {"values": [0, 15, 30, 45, 60, 75, 90, 105, 120, 135, 150, 165, 180, 195, 210, 225, 240, 255, 270, 285], "labelExpr": "['8:17','08:22','08:28','08:33','08:38','08:43','08:47','08:51','08:56','09:01','09:06','09:13','09:19','09:25','09:30','09:36','09:44','09:48','09:53','09:58'][round(datum.value/15)]", "labelAlign": {"condition": {"test": "datum.value == 0", "value": "left"}, "value": "center"}, "labelOffset": {"condition": {"test": "datum.value == 0", "value": -8.5}, "value": 0}, "labelFlush": false, "tickSize": 5, "labelPadding": 2, "title": null, "domain": false, "grid": false, "labelOverlap": false}}},
"layer": [
{"data": {"name": "bg"}, "mark": {"type": "rect"},
 "encoding": {"x2": {"field": "i2"}, "y": {"field": "a", "type": "quantitative", "scale": {"domain": [9038.79, 9072.14], "nice": false, "zero": false}, "axis": null}, "y2": {"field": "b"},
  "fill": {"condition": [{"test": "datum.k == 'w'", "value": "rgba(236,236,236,0.75)"}, {"test": "datum.k == 'B'", "value": "rgba(135,206,235,0.55)"}, {"test": "datum.k == 'b'", "value": "rgba(135,206,235,0.28)"}, {"test": "datum.k == 'P'", "value": "rgba(255,182,193,0.45)"}], "value": "rgba(255,182,193,0.28)"}}},
{"data": {"name": "bluearea"}, "mark": {"type": "area", "interpolate": "step-after", "fill": "#8FA5C0", "opacity": 0.6},
 "encoding": {"y": {"field": "t", "type": "quantitative", "scale": {"domain": [9038.79, 9072.14], "nice": false, "zero": false}, "axis": null}, "y2": {"field": "b"}}},
{"data": {"name": "gbox"}, "mark": {"type": "rect", "fill": "#3CB371", "opacity": 0.35},
 "encoding": {"x2": {"field": "i2"}, "y": {"field": "a", "type": "quantitative", "scale": {"domain": [9038.79, 9072.14], "nice": false, "zero": false}, "axis": null}, "y2": {"field": "b"}}},
{"data": {"name": "salmon"}, "mark": {"type": "area", "interpolate": "step-after", "fill": "#F08070", "opacity": 0.6},
 "encoding": {"y": {"field": "t", "type": "quantitative", "scale": {"domain": [9038.79, 9072.14], "nice": false, "zero": false}, "axis": null}, "y2": {"field": "b"}, "detail": {"field": "g", "type": "nominal"}}},
{"data": {"name": "ghost"}, "mark": {"type": "bar", "width": 3.2, "strokeWidth": 1},
 "encoding": {"y": {"field": "a", "type": "quantitative", "scale": {"domain": [9038.79, 9072.14], "nice": false, "zero": false}, "axis": null}, "y2": {"field": "b"},
  "fill": {"condition": [{"test": "datum.k == 'g'", "value": "rgba(34,139,34,0.12)"}, {"test": "datum.k == 'G'", "value": "rgba(34,139,34,0.75)"}], "value": "rgba(220,20,60,0.05)"},
  "stroke": {"condition": [{"test": "datum.k == 'g'", "value": "#1E8A1E"}, {"test": "datum.k == 'G'", "value": "#1E7A1E"}], "value": "#DC143C"}}},
{"data": {"name": "lev"}, "mark": {"type": "rule", "stroke": "#2E8B57", "strokeWidth": 2, "opacity": 0.85},
 "encoding": {"x2": {"field": "i2"}, "y": {"field": "v", "type": "quantitative", "scale": {"domain": [9038.79, 9072.14], "nice": false, "zero": false}, "axis": null}}},
{"data": {"name": "orange"}, "mark": {"type": "line", "stroke": "#E8902A", "strokeWidth": 2, "strokeJoin": "round"},
 "encoding": {"y": {"field": "v", "type": "quantitative", "scale": {"domain": [9038.79, 9072.14], "nice": false, "zero": false}, "axis": null}}},
{"data": {"name": "hl"}, "mark": {"type": "rule", "strokeWidth": 2, "strokeDash": [2, 2], "strokeCap": "butt"},
 "encoding": {"x2": {"field": "i2"}, "y": {"field": "v", "type": "quantitative", "scale": {"domain": [9038.79, 9072.14], "nice": false, "zero": false}, "axis": {"orient": "right", "values": [9040, 9060], "format": ".2f", "tickSize": 5, "labelPadding": 2, "title": null, "domain": false, "grid": false}},
  "stroke": {"condition": {"test": "datum.k == 'k'", "value": "#000000"}, "value": "#FFFFFF"}}},
{"data": {"name": "ma"}, "mark": {"type": "line", "strokeWidth": 3.5, "strokeDash": [3.5, 3.5], "strokeCap": "butt", "strokeJoin": "round"},
 "encoding": {"y": {"field": "v", "type": "quantitative", "scale": {"domain": [9038.79, 9072.14], "nice": false, "zero": false}, "axis": null},
  "detail": {"field": "s", "type": "nominal"},
  "stroke": {"condition": {"test": "datum.s == 'n'", "value": "#000080"}, "value": "#800080"}}},
{"data": {"name": "candles"}, "mark": {"type": "bar", "width": 2.8, "stroke": "black", "strokeWidth": 1},
 "encoding": {"y": {"field": "o", "type": "quantitative", "scale": {"domain": [9038.79, 9072.14], "nice": false, "zero": false}, "axis": null}, "y2": {"field": "c"},
  "fill": {"condition": {"test": "datum.c >= datum.o", "value": "#2EA35A"}, "value": "#DC143C"}}},
{"data": {"name": "pbadge"}, "mark": {"type": "point", "filled": true, "opacity": 1, "size": 225, "shape": "M-4.04,0L-2.84,-1L4.04,-1L4.04,1L-2.84,1Z", "stroke": "black", "strokeWidth": 1},
 "encoding": {"y": {"field": "v", "type": "quantitative", "scale": {"domain": [9038.79, 9072.14], "nice": false, "zero": false}, "axis": null},
  "fill": {"condition": [{"test": "datum.k == 'g'", "value": "#2E8B57"}, {"test": "datum.k == 'k'", "value": "#000000"}], "value": "#FF8C00"}}},
{"data": {"name": "pbadge"}, "mark": {"type": "text", "font": "Liberation Sans", "fontSize": 13, "align": "center", "baseline": "middle", "dx": 3},
 "encoding": {"y": {"field": "v", "type": "quantitative", "scale": {"domain": [9038.79, 9072.14], "nice": false, "zero": false}, "axis": null}, "text": {"field": "lab"},
  "fill": {"condition": {"test": "datum.k == 'o'", "value": "#000000"}, "value": "#FFFFFF"}}},
{"data": {"name": "copy"}, "mark": {"type": "text", "font": "Liberation Sans", "fontSize": 12.5, "align": "left", "baseline": "middle", "fill": "black"},
 "encoding": {"y": {"field": "v", "type": "quantitative", "scale": {"domain": [9038.79, 9072.14], "nice": false, "zero": false}, "axis": null}, "text": {"field": "lab"}}}
]
}
]
}
